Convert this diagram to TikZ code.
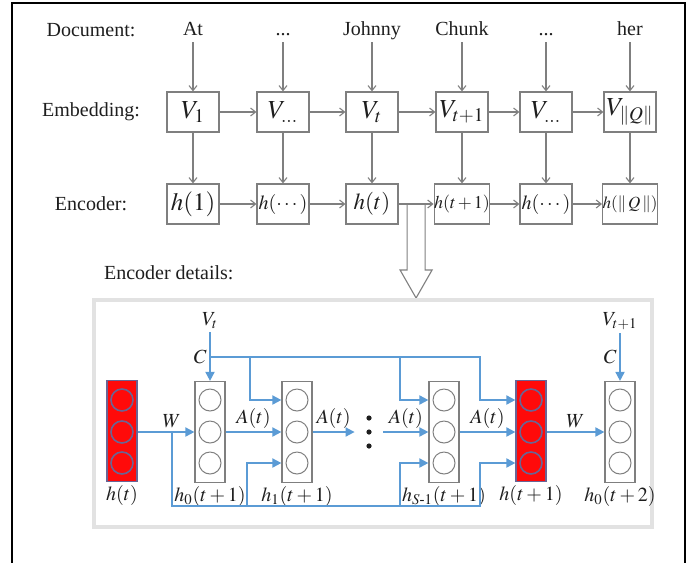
\documentclass[tikz,border=0pt]{standalone}
\usepackage{amsmath}
\usepackage{mathptmx}
\usepackage[no-math]{fontspec}
\setmainfont{Liberation Serif}
\usetikzlibrary{arrows.meta,positioning,calc}
\definecolor{ln}{HTML}{7F7F7F}
\definecolor{bl}{HTML}{5B9BD5}
\definecolor{rd}{HTML}{FF0A0A}
\definecolor{rim}{HTML}{6A6494}
\definecolor{fr}{HTML}{E2E2E2}
\definecolor{ink}{HTML}{1E1E1E}

\tikzset{
  rowlab/.style={font=\fontsize{10}{12}\selectfont,text=ink},
  word/.style={font=\fontsize{10}{12}\selectfont,text=ink,text height=7pt,text depth=2pt,inner sep=1.5pt},
  wbox/.style={draw=ln,line width=0.6pt,minimum width=26pt,minimum height=20pt,inner sep=0pt,text=ink},
  garr/.style={draw=ln,line width=0.55pt,-{Straight Barb[length=2.5pt,width=4pt]}},
  col/.style={draw=ln,line width=0.6pt,minimum width=15pt,minimum height=50.5pt,inner sep=0pt},
  redcol/.style={col,fill=rd,draw=rim},
  cell/.style={circle,draw=ln,line width=0.5pt,minimum size=11pt,inner sep=0pt},
  redcell/.style={cell,draw=rim,line width=0.8pt,fill=rd},
  arr/.style={draw=bl,line width=0.9pt,-{Triangle[length=4.5pt,width=4.5pt]}},
  lbl/.style={font=\fontsize{10}{12}\selectfont,text=ink,inner sep=1.5pt},
}

\begin{document}
\begin{tikzpicture}[x=0.5pt,y=-0.5pt]
  \useasboundingbox (0,0) rectangle (688,562);
  \draw[line width=1pt] (12,3) rectangle (685,590);
  % Top: document, embedding, encoder
  \node[rowlab] (ldoc) at (91,30) {Document:};
  \node[rowlab] (lemb) at (91,112) {Embedding:};
  \node[rowlab] (lenc) at (91,204) {Encoder:};
  \node[word] (w1) at (193,30) {At};
  \node[word] (w2) at (283,30) {...};
  \node[word] (w3) at (372,30) {Johnny};
  \node[word] (w4) at (462,30) {Chunk};
  \node[word] (w5) at (546,30) {...};
  \node[word] (w6) at (630,30) {her};
  \node[wbox,font=\fontsize{13}{15}\selectfont] (v1) at (193,112) {$V_1$};
  \node[wbox,font=\fontsize{13}{15}\selectfont] (v2) at (283,112) {$V_{\ldots}$};
  \node[wbox,font=\fontsize{13}{15}\selectfont] (v3) at (372,112) {$V_t$};
  \node[wbox,font=\fontsize{13}{15}\selectfont] (v4) at (462,112) {$V_{t+1}$};
  \node[wbox,font=\fontsize{13}{15}\selectfont] (v5) at (546,112) {$V_{\ldots}$};
  \node[wbox,font=\fontsize{13}{15}\selectfont] (v6) at (630,112) {$V_{\|Q\|}$};
  \node[wbox,font=\fontsize{12.5}{15}\selectfont] (h1) at (193,204) {$h(1)$};
  \node[wbox,font=\fontsize{10}{12}\selectfont] (h2) at (283,204) {$h(\cdots)$};
  \node[wbox,font=\fontsize{11.5}{14}\selectfont] (h3) at (372,204) {$h(t)$};
  \node[wbox,font=\fontsize{9}{11}\selectfont] (h4) at (462,204) {$h(t\,{+}\,1)$};
  \node[wbox,font=\fontsize{10}{12}\selectfont] (h5) at (546,204) {$h(\cdots)$};
  \node[wbox,font=\fontsize{8.5}{10}\selectfont] (h6) at (630,204) {$h(\|\,Q\,\|)$};
  \foreach \i in {1,...,6} {
    \draw[garr] (w\i) -- (v\i);
    \draw[garr] (v\i) -- (h\i);
  }
  \foreach \i/\j in {1/2,2/3,3/4,4/5,5/6} {
    \draw[garr] (v\i) -- (v\j);
    \draw[garr] (h\i) -- (h\j);
  }
  % hollow arrow down to the details
  \coordinate (hm) at ($(h3.east)!0.5!(h4.west)$);
  \draw[ln,line width=0.55pt] ($(hm)+(-9,0)$) -- ++(0,66) -- ++(-7,0)
    -- ++(16,28) -- ++(16,-28) -- ++(-7,0) -- ++(0,-66);

  % Bottom: encoder details
  \node[rowlab,anchor=west] (ldet) at (97,273) {Encoder details:};
  \draw[fr,line width=2pt] (94,300) rectangle (652,527);
  \foreach \n/\x in {1/210,2/297,3/444,5/620} {
    \node[col] (c\n) at (\x,432) {};
    \foreach \r/\y in {1/400,2/432,3/463}
      \node[cell] (c\n-\r) at (\x,\y) {};
  }
  \foreach \n/\x in {0/122,4/531} {
    \node[redcol] (c\n) at (\x,431) {};
    \foreach \r/\y in {1/400,2/432,3/463}
      \node[redcell] (c\n-\r) at (\x,\y) {};
  }
  \node[lbl,below=0pt of c0] (n0) {$h(t)$};
  \node[lbl,below=0pt of c1] (n1) {$h_0(t+1)$};
  \node[lbl,below=0pt of c2] (n2) {$h_1(t+1)$};
  \node[lbl,below=0pt of c3] (n3) {$h_{S\text{-}1}(t+1)$};
  \node[lbl,below=0pt of c4] (n4) {$h(t+1)$};
  \node[lbl,below=0pt of c5] (n5) {$h_0(t+2)$};
  \node[minimum width=14pt,minimum height=16pt,inner sep=0pt] (dts) at (369,432) {};
  \foreach \y in {418,432,446} \fill[ink] (369,\y) circle (1.3pt);

  % inputs V and C
  \node[lbl] (vt) at (210,321) {$V_t$};
  \node[lbl] (vt1) at (620,321) {$V_{t+1}$};
  \coordinate (jc) at (210,357);
  \coordinate (jc1) at (620,357);
  \node[lbl,left] (cl0) at (jc) {$C$};
  \node[lbl,left] (cl1) at (jc1) {$C$};
  \draw[arr] (vt) -- (c1);
  \draw[arr] (vt1) -- (c5);
  \coordinate (t2) at (250,357);
  \coordinate (t3) at (400,357);
  \coordinate (t4) at (480,357);
  \draw[arr] (jc) -- (t4) |- (c4.west |- c4-1);
  \draw[arr] (t2) |- (c2.west |- c2-1);
  \draw[arr] (t3) |- (c3.west |- c3-1);

  % W and A(t)
  \draw[arr] (c0.east |- c0-2) -- node[lbl,above,pos=0.6] (wl0) {$W$} (c1.west |- c1-2);
  \draw[arr] (c1.east |- c1-2) -- node[lbl,above] (al1) {$A(t)$} (c2.west |- c2-2);
  \draw[arr] (c2.east |- c2-2) -- node[lbl,above] (al2) {$A(t)$} (dts);
  \draw[arr] (dts) -- node[lbl,above] (al3) {$A(t)$} (c3.west |- c3-2);
  \draw[arr] (c3.east |- c3-2) -- node[lbl,above] (al4) {$A(t)$} (c4.west |- c4-2);
  \draw[arr] (c4.east |- c4-2) -- node[lbl,above] (wl1) {$W$} (c5.west |- c5-2);

  % skip line under the cells
  \coordinate (jw) at (172,432);
  \coordinate (k2) at (247,506);
  \coordinate (k3) at (400,506);
  \coordinate (k4) at (480,506);
  \draw[arr] (jw) |- (k4) |- (c4.west |- c4-3);
  \draw[arr] (k2) |- (c2.west |- c2-3);
  \draw[arr] (k3) |- (c3.west |- c3-3);
\end{tikzpicture}
\end{document}
